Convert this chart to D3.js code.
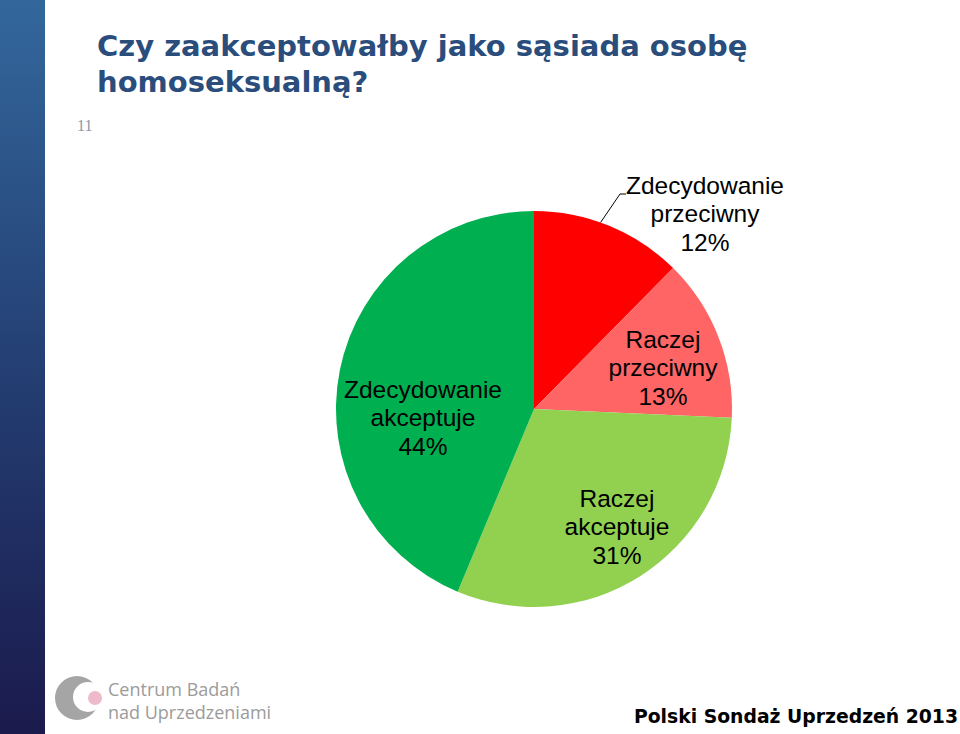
<!DOCTYPE html>
<html><head><meta charset="utf-8">
<script src="https://cdn.jsdelivr.net/npm/d3@7"></script>
<style>html,body{margin:0;padding:0;background:#fff;}svg{display:block;}</style>
</head><body>
<svg id="c" width="960" height="734"></svg>
<script>
const categories = ["Zdecydowanie przeciwny", "Raczej przeciwny", "Raczej akceptuje", "Zdecydowanie akceptuje"];
const labelLines = [["Zdecydowanie","przeciwny"],["Raczej","przeciwny"],["Raczej","akceptuje"],["Zdecydowanie","akceptuje"]];
const values = [12.4, 13.3, 30.6, 43.7];
const percentLabels = ["12%", "13%", "31%", "44%"];
const colors = ["#ff0000", "#ff6565", "#92d050", "#00b050"];
const title = ["Czy zaakceptowałby jako sąsiada osobę", "homoseksualną?"];

const svg = d3.select("#c");
const defs = svg.append("defs");
const g1 = defs.append("linearGradient").attr("id","side").attr("x1",0).attr("y1",0).attr("x2",0).attr("y2",1);
g1.append("stop").attr("offset","0%").attr("stop-color","#33679c");
g1.append("stop").attr("offset","50%").attr("stop-color","#243f73");
g1.append("stop").attr("offset","100%").attr("stop-color","#1b1a4d");
svg.append("rect").attr("x",0).attr("y",0).attr("width",45).attr("height",734).attr("fill","url(#side)");

// title
svg.append("text").attr("fill","#2a4d7c")
  .attr("font-family","DejaVu Sans, Verdana, sans-serif").attr("font-weight","bold").attr("font-size",29)
  .selectAll("tspan").data(title).join("tspan").attr("x",97).attr("y",(d,i)=>56+i*36).text(d=>d);

svg.append("text").attr("x",77).attr("y",131).attr("fill","#8a9aa8")
  .attr("font-family","Liberation Serif, serif").attr("font-size",16).text("11");

// pie
const cx = 534, cy = 409, R = 198;
const pie = d3.pie().sort(null).value(d=>d);
const arcs = pie(values);
const arc = d3.arc().innerRadius(0).outerRadius(R);
const gp = svg.append("g").attr("transform",`translate(${cx},${cy})`);
gp.selectAll("path").data(arcs).join("path").attr("d",arc).attr("fill",(d,i)=>colors[i]);

// labels (layout: middle-line baseline offsets from pie center)
const labelPos = [[171,-187],[129,-33],[83,126],[-111,17]];
const lh = 28.5;
arcs.forEach((a,i)=>{
  const lines = labelLines[i].concat([percentLabels[i]]);
  const t = gp.append("text").attr("text-anchor","middle")
    .attr("font-family","Liberation Sans, Arial, sans-serif").attr("font-size",24.5).attr("fill","#000");
  lines.forEach((s,j)=>{
    t.append("tspan").attr("x",labelPos[i][0]).attr("y",labelPos[i][1]+(j-1)*lh).text(s);
  });
});
// leader line for first slice
const a0 = arcs[0];
const ang = a0.startAngle + (a0.endAngle - a0.startAngle)*0.5;
const p0 = [R*Math.sin(ang*0.88), -R*Math.cos(ang*0.88)];
gp.append("polyline").attr("points",`${p0[0]},${p0[1]} 86,-215 92,-215`)
  .attr("fill","none").attr("stroke","#000").attr("stroke-width",1);

// logo
const lg = svg.append("g").attr("transform","translate(77,698)");
lg.append("circle").attr("r",22).attr("fill","#a5a5a5");
lg.append("circle").attr("cx",11).attr("cy",-1).attr("r",15).attr("fill","#fff");
lg.append("circle").attr("cx",18).attr("cy",0).attr("r",7).attr("fill","#e8a9bd").attr("opacity",0.8);
svg.append("text").attr("fill","#9b9b9b").attr("font-family","Open Sans, Noto Sans, sans-serif").attr("font-size",18)
  .selectAll("tspan").data(["Centrum Badań","nad Uprzedzeniami"]).join("tspan")
  .attr("x",108).attr("y",(d,i)=>696+i*23).text(d=>d);

svg.append("text").attr("x",958).attr("y",723).attr("text-anchor","end")
  .attr("font-family","DejaVu Sans, Verdana, sans-serif").attr("font-weight","bold").attr("font-size",18.8)
  .attr("fill","#000").text("Polski Sondaż Uprzedzeń 2013");
</script>
</body></html>
